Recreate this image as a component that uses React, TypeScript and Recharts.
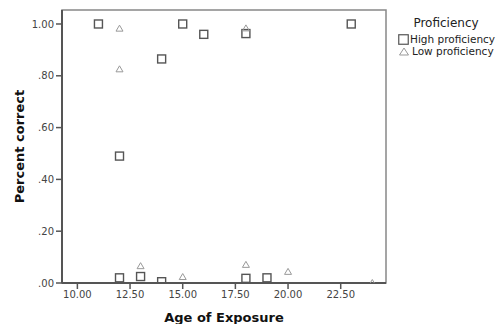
import { ScatterChart, Scatter, XAxis, YAxis, ReferenceArea } from "recharts";

// values
const highAge = [11, 12, 12, 13, 14, 14, 15, 16, 18, 18, 19, 23];
const highPct = [1.0, 0.49, 0.02, 0.025, 0.865, 0.005, 1.0, 0.96, 0.963, 0.018, 0.02, 1.0];
const lowAge = [12, 12, 13, 15, 18, 18, 20, 24];
const lowPct = [0.982, 0.825, 0.065, 0.023, 0.983, 0.07, 0.043, 0.0];

const xTicks = [10, 12.5, 15, 17.5, 20, 22.5];
const yTicks = [0, 0.2, 0.4, 0.6, 0.8, 1.0];
const xDomain: [number, number] = [9.27, 24.65];
const yDomain: [number, number] = [0, 1.054];

const highData = highAge.map((age, i) => ({ age, pct: highPct[i] }));
const lowData = lowAge.map((age, i) => ({ age, pct: lowPct[i] }));

const font = "'DejaVu Sans', sans-serif";
const tickStyle = { fontSize: 10, fill: "#444", fontFamily: font };

function Square(props: any) {
  const { cx, cy } = props;
  if (cx == null || cy == null) return null;
  return (
    <rect x={cx - 4} y={cy - 4} width={8} height={8} fill="none" stroke="#555" strokeWidth={1.4} />
  );
}

function Triangle(props: any) {
  const { cx, cy } = props;
  if (cx == null || cy == null) return null;
  return (
    <path
      d={`M${cx},${cy - 3.5}L${cx + 3.5},${cy + 2.5}L${cx - 3.5},${cy + 2.5}Z`}
      fill="none"
      stroke="#999"
      strokeWidth={1}
    />
  );
}

const fmtY = (v: number) => (v < 1 ? v.toFixed(2).slice(1) : v.toFixed(2));

export default function App() {
  return (
    <div style={{ position: "absolute", left: 0, top: 0, width: 496, height: 324, background: "#fff" }}>
      <ScatterChart width={496} height={324} margin={{ top: 10, right: 110, bottom: 0, left: 0 }}>
        <ReferenceArea
          x1={xDomain[0]}
          x2={xDomain[1]}
          y1={yDomain[0]}
          y2={yDomain[1]}
          fill="none"
          stroke="#888"
          strokeWidth={1.5}
        />
        <XAxis
          type="number"
          dataKey="age"
          domain={xDomain}
          ticks={xTicks}
          tickFormatter={(v: number) => v.toFixed(2)}
          height={41}
          tick={tickStyle}
          axisLine={{ stroke: "#555", strokeWidth: 2 }}
          tickLine={{ stroke: "#555", strokeWidth: 1.5 }}
          allowDataOverflow
          label={{
            value: "Age of Exposure",
            position: "insideBottom",
            offset: 2,
            style: { fontSize: 13, fontWeight: "bold", fill: "#111", fontFamily: font },
          }}
        />
        <YAxis
          type="number"
          dataKey="pct"
          domain={yDomain}
          ticks={yTicks}
          tickFormatter={fmtY}
          width={62}
          tick={tickStyle}
          axisLine={{ stroke: "#555", strokeWidth: 2 }}
          tickLine={{ stroke: "#555", strokeWidth: 1.5 }}
          allowDataOverflow
          label={{
            value: "Percent correct",
            angle: -90,
            position: "insideLeft",
            offset: 19,
            style: { fontSize: 13, fontWeight: "bold", fill: "#111", fontFamily: font, textAnchor: "middle" },
          }}
        />
        <Scatter name="High proficiency" data={highData} shape={Square} isAnimationActive={false} />
        <Scatter name="Low proficiency" data={lowData} shape={Triangle} isAnimationActive={false} />
      </ScatterChart>
      <div style={{ position: "absolute", left: 398, top: 16, fontFamily: font, color: "#222" }}>
        <div style={{ fontSize: 12, width: 96, textAlign: "center", lineHeight: "14px" }}>Proficiency</div>
        <div style={{ display: "flex", alignItems: "center", fontSize: 10.5, lineHeight: "11px", marginTop: 4 }}>
          <svg width={11} height={11} style={{ marginRight: 1 }}>
            <rect x={0.75} y={0.75} width={9.5} height={9.5} fill="none" stroke="#555" strokeWidth={1.2} />
          </svg>
          High proficiency
        </div>
        <div style={{ display: "flex", alignItems: "center", fontSize: 10.5, lineHeight: "11px", marginTop: 1 }}>
          <svg width={12} height={9} style={{ marginRight: 2 }}>
            <path d="M6,1L10.5,8L1.5,8Z" fill="none" stroke="#999" strokeWidth={1} />
          </svg>
          Low proficiency
        </div>
      </div>
    </div>
  );
}
